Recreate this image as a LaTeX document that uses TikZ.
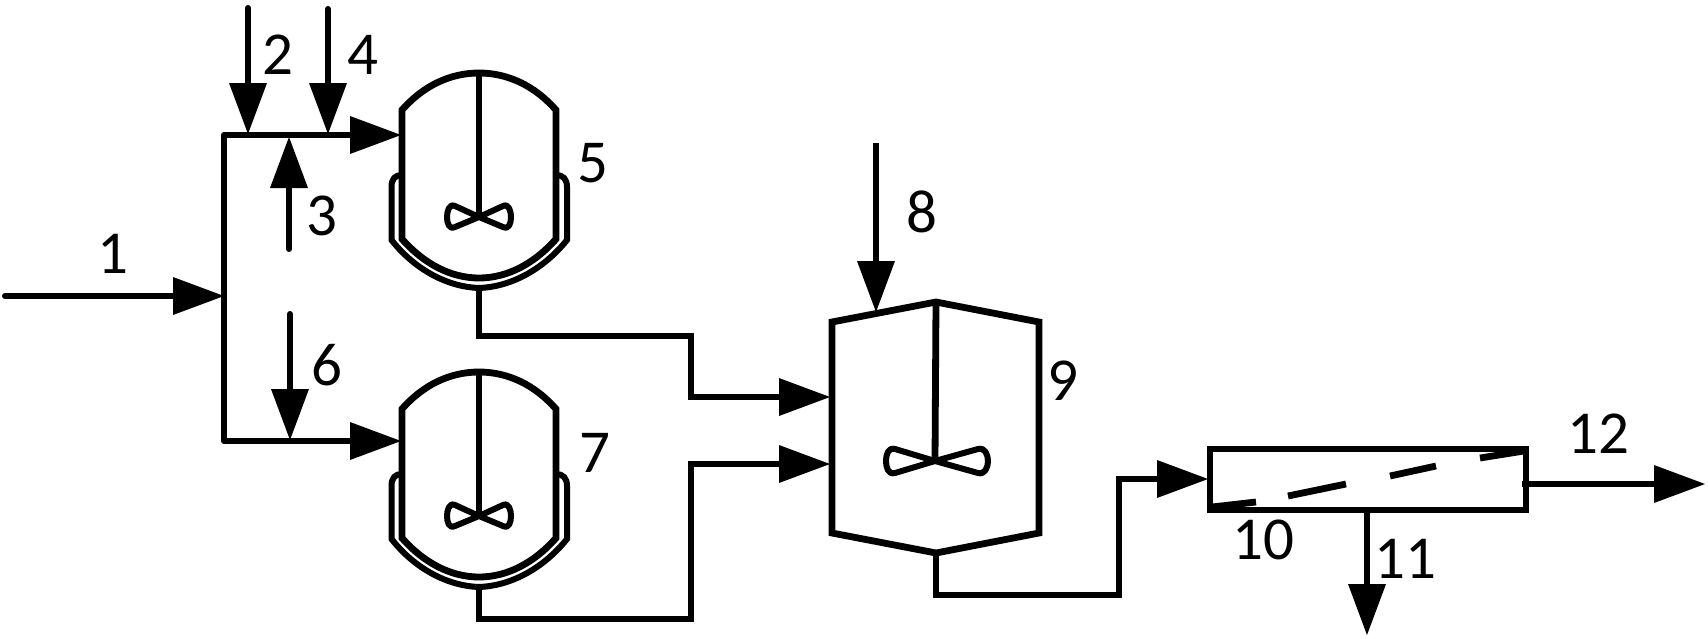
\documentclass[tikz,border=0pt]{standalone}
\usepackage{fontspec}
\setmainfont{Carlito}
\usetikzlibrary{arrows.meta}
\tikzset{
  pipe/.style={line width=3pt,line join=miter},
  feed/.style={pipe,-{Triangle[length=25.5pt,width=19pt,line width=0pt]}},
  wall/.style={line width=3.4pt,line join=miter},
  blade/.style={line width=3pt,line join=round},
  tag/.style={inner sep=0pt,font=\fontsize{30.5}{36}\selectfont},
  reactor/.pic={
    \coordinate (-top) at (0,-144);
    \coordinate (-hub) at (0,0);
    \coordinate (-out) at (0,71);
    \draw[wall] (-77,-107) .. controls (-55,-132) and (-28,-144) .. (-top)
       .. controls (28,-144) and (55,-132) .. (77,-107)
       -- (77,22) .. controls (55,47) and (28,61) .. (0,61)
       .. controls (-28,61) and (-55,47) .. (-77,22) -- cycle;
    \draw[pipe] (-77,-42) .. controls (-84,-42) and (-87.5,-38) .. (-87.5,-30)
       -- (-87.5,23) .. controls (-63,54) and (-30,70) .. (-out)
       .. controls (30,70) and (63,54) .. (88,23)
       -- (88,-30) .. controls (88,-38) and (84,-42) .. (77,-42);
    \draw[wall] (-top) -- (-hub);
    \draw[blade] (-hub) -- (-24,-11) .. controls (-30,-14) and (-32,-5) .. (-32,0)
       .. controls (-32,6) and (-30,13) .. (-24,10) -- (-hub)
       -- (24,-11) .. controls (30,-14) and (32,-5) .. (32,0)
       .. controls (32,6) and (30,13) .. (24,10) -- cycle;
  }
}
\begin{document}
\begin{tikzpicture}[x=0.5pt,y=-0.5pt]
\useasboundingbox (0,0) rectangle (1708,638);
% reactors
\pic (rA) at (479,217) {reactor};
\pic (rB) at (479,516) {reactor};
% mixing vessel
\coordinate (vTop) at (936,302);
\coordinate (vBot) at (936,553);
\coordinate (vHub) at (935,461);
\draw[wall] (832,322) -- (vTop) -- (1039,322) -- (1039,533) -- (vBot) -- (832,533) -- cycle;
\draw[wall] (vTop) -- (vHub);
\draw[blade] (vHub) -- (895,449) .. controls (888,447) and (886,455) .. (886,461)
   .. controls (886,467) and (888,475) .. (895,473) -- (vHub)
   -- (978,449) .. controls (985,447) and (988,455) .. (988,461)
   .. controls (988,467) and (985,475) .. (978,473) -- cycle;
% separator
\draw[line width=3.4pt] (1210,449) rectangle (1526,510);
\coordinate (f1a) at (1212,507); \coordinate (f1b) at (1256,502);
\coordinate (f2a) at (1288,496); \coordinate (f2b) at (1346,484);
\coordinate (f3a) at (1390,476); \coordinate (f3b) at (1436,466);
\coordinate (f4a) at (1480,458); \coordinate (f4b) at (1524,451);
\draw[wall] (f1a) -- (f1b) (f2a) -- (f2b) (f3a) -- (f3b) (f4a) -- (f4b);
% named ends
\coordinate (s1) at (5,296);    \coordinate (j1) at (224,296);
\coordinate (jT) at (224,135);  \coordinate (jB) at (224,441);
\coordinate (inA) at (401,135); \coordinate (inB) at (401,441);
\coordinate (s2) at (248,8);    \coordinate (j2) at (248,134);
\coordinate (s4) at (328,9);    \coordinate (j4) at (328,134);
\coordinate (s3) at (289,249);  \coordinate (j3) at (289,137);
\coordinate (s6) at (290,314);  \coordinate (j6) at (290,440);
\coordinate (s8) at (876,143);  \coordinate (j8) at (876,312);
\coordinate (inV1) at (830,397);\coordinate (inV2) at (830,464);
\coordinate (inF) at (1208,479);
\coordinate (o11a) at (1367,510); \coordinate (o11b) at (1367,635);
\coordinate (o12a) at (1522,484); \coordinate (o12b) at (1705,484);
% connectors
\draw[feed,line cap=round] (s1) -- (j1);
\draw[pipe,line cap=round] (jT) -- (jB);
\draw[feed] (jT) -- (inA);
\draw[feed] (jB) -- (inB);
\draw[feed,line cap=round] (s2) -- (j2);
\draw[feed,line cap=round] (s4) -- (j4);
\draw[feed,line cap=round] (s3) -- (j3);
\draw[feed,line cap=round] (s6) -- (j6);
\draw[feed] (s8) -- (j8);
\draw[feed] (rA-out) |- (691,336) -- (691,397) -- (inV1);
\draw[feed] (rB-out) |- (691,619) -- (691,464) -- (inV2);
\draw[feed] (vBot) |- (1119,595) -- (1119,479) -- (inF);
\draw[feed] (o11a) -- (o11b);
\draw[feed] (o12a) -- (o12b);
% labels
\node[tag] (t1) at (113,254) {1};
\node[tag] (t2) at (278,55) {2};
\node[tag] (t3) at (322,216) {3};
\node[tag] (t4) at (363,55) {4};
\node[tag] (t5) at (593,163) {5};
\node[tag] (t6) at (327,365) {6};
\node[tag] (t7) at (595,453) {7};
\node[tag] (t8) at (922,212) {8};
\node[tag] (t9) at (1063,381) {9};
\node[tag] (t10) at (1263,540) {10};
\node[tag] (t11) at (1405,559) {11};
\node[tag] (t12) at (1598,434) {12};
\end{tikzpicture}
\end{document}
